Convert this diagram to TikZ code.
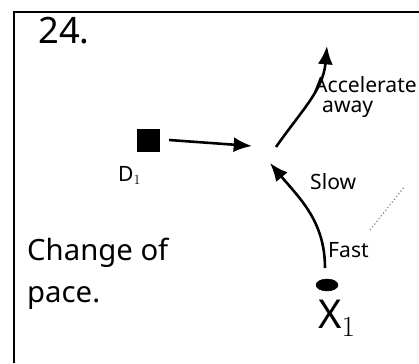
\documentclass[tikz,border=0pt]{standalone}
\usepackage{fontspec}
\setmainfont{Noto Sans}
\usetikzlibrary{positioning,arrows.meta,shapes.geometric}

\begin{document}
\begin{tikzpicture}[
    x=0.03cm, y=-0.03cm,
    hand/.style={font=\fontsize{18}{20}\selectfont, inner sep=0pt},
    big/.style={font=\fontsize{25}{36}\selectfont, inner sep=0pt, align=left},
    player/.style={draw, fill=black, inner sep=0pt},
    arr/.style={-{Latex[length=5.5mm,width=4.5mm]}, line width=2.2pt},
    dots/.style={dotted, line width=1pt, gray}
  ]
    \useasboundingbox (0,0) rectangle (419,363);
    % frame
    \draw[line width=2.4pt] (14,363) -- (14,12) -- (419,12);
    \node[big, font=\fontsize{31}{36}\selectfont, anchor=north west] (num) at (38,17) {24.};
    % players
    \node[player, minimum size=0.65cm] (d1) at (148,140) {};
    \node[hand, below left=0.45cm and 0.2cm of d1.south] (d1lab) {D$_1$};
    \node[player, ellipse, minimum width=0.66cm, minimum height=0.36cm] (x1) at (327,285) {};
    \node[big, font=\fontsize{34}{40}\selectfont, below=0.25cm of x1, xshift=0.3cm] (x1lab) {X$_1$};
    % run points
    \coordinate (meet) at (252,146);
    \coordinate (top) at (327,46);
    \coordinate (cut) at (276,147);
    \coordinate (back) at (270,163);
    \coordinate (start) at (325,268);
    \draw[arr] (d1.east) ++(0.3cm,0) -- (meet);
    \draw[arr] (cut) to[out=55, in=-95] (top);
    \draw[arr] (start) to[out=90, in=-50] (back);
    % labels
    \node[hand, anchor=west] (acc) at (314,85) {Accelerate};
    \node[hand, anchor=west] (away) at (322,109) {away};
    \node[hand, anchor=west] (slow) at (310,182) {Slow};
    \node[hand, anchor=west] (fast) at (328,250) {Fast};
    \node[big, anchor=north west] (pace) at (27,238) {Change of\\pace.};
    \draw[dots] (370,230) -- (405,186);
  \end{tikzpicture}
\end{document}
